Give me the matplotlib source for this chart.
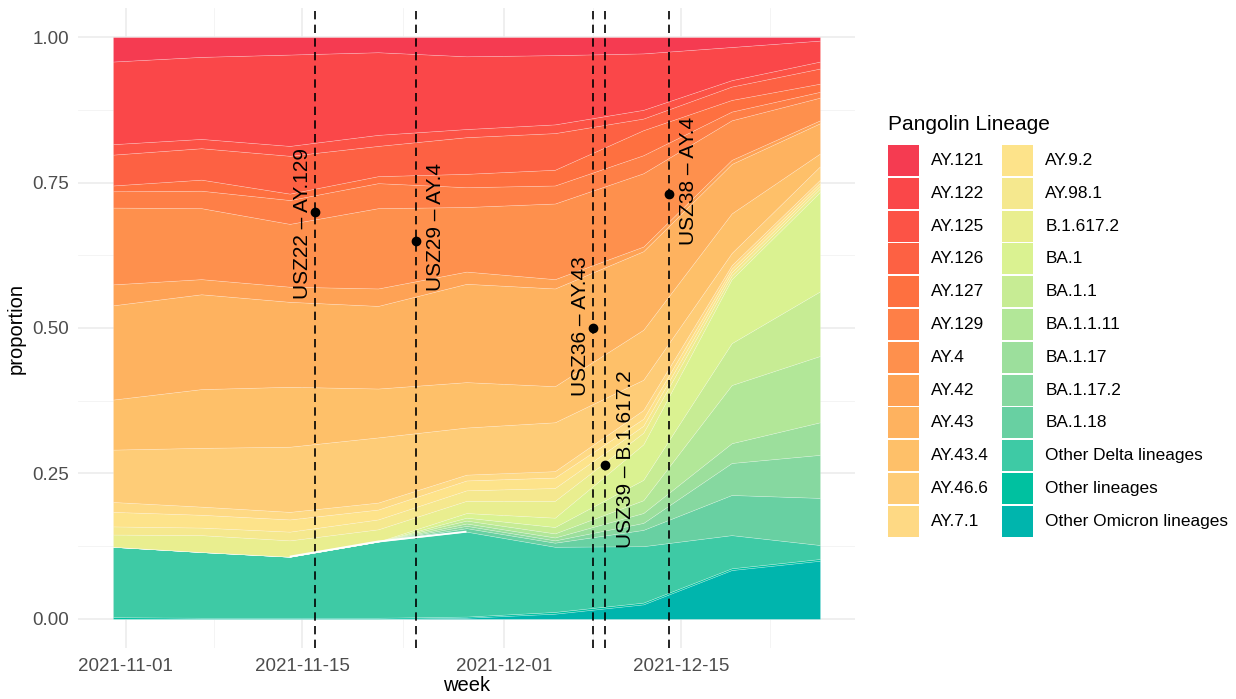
import numpy as np
import matplotlib
matplotlib.use("Agg")
import matplotlib.pyplot as plt
import matplotlib.dates as mdates
import matplotlib.ticker as mticker
from matplotlib.patches import Rectangle
import datetime as dt

# ---------------- data ----------------
weeks = ["2021-10-31", "2021-11-07", "2021-11-14", "2021-11-21", "2021-11-28",
         "2021-12-05", "2021-12-12", "2021-12-19", "2021-12-26"]

lineages = ["AY.121", "AY.122", "AY.125", "AY.126", "AY.127", "AY.129", "AY.4",
            "AY.42", "AY.43", "AY.43.4", "AY.46.6", "AY.7.1", "AY.9.2", "AY.98.1",
            "B.1.617.2", "BA.1", "BA.1.1", "BA.1.1.11", "BA.1.17", "BA.1.17.2",
            "BA.1.18", "Other Delta lineages", "Other lineages", "Other Omicron lineages"]

colors = ["#F53B51", "#FA4749", "#FC5346", "#FD6143", "#FE7040", "#FE7F47", "#FE904D",
          "#FEA255", "#FEB25F", "#FEC069", "#FECC77", "#FED984", "#FDE38A", "#F5E88E",
          "#E9EE8F", "#DAF291", "#C7EC94", "#B2E798", "#9CDF9C", "#86D8A0",
          "#68D0A2", "#3ECAA5", "#00C1A0", "#00B5AD"]

# weekly proportions per lineage
AY_121 = [0.042, 0.034, 0.030, 0.026, 0.033, 0.031, 0.028, 0.017, 0.006]
AY_122 = [0.142, 0.141, 0.157, 0.142, 0.125, 0.119, 0.097, 0.057, 0.036]
AY_125 = [0.018, 0.016, 0.017, 0.019, 0.014, 0.015, 0.015, 0.011, 0.012]
AY_126 = [0.053, 0.054, 0.065, 0.052, 0.063, 0.063, 0.020, 0.023, 0.026]
AY_127 = [0.010, 0.019, 0.011, 0.012, 0.023, 0.027, 0.043, 0.020, 0.014]
AY_129 = [0.028, 0.030, 0.041, 0.043, 0.034, 0.031, 0.031, 0.015, 0.010]
AY_4 = [0.132, 0.122, 0.108, 0.138, 0.111, 0.130, 0.126, 0.068, 0.039]
AY_42 = [0.036, 0.026, 0.026, 0.030, 0.021, 0.016, 0.008, 0.007, 0.005]
AY_43 = [0.162, 0.163, 0.146, 0.142, 0.169, 0.168, 0.135, 0.085, 0.052]
AY_43_4 = [0.086, 0.101, 0.103, 0.084, 0.078, 0.062, 0.086, 0.068, 0.022]
AY_46_6 = [0.090, 0.101, 0.112, 0.112, 0.081, 0.084, 0.052, 0.021, 0.023]
AY_7_1 = [0.017, 0.014, 0.013, 0.012, 0.010, 0.011, 0.015, 0.006, 0.005]
AY_9_2 = [0.025, 0.022, 0.021, 0.017, 0.017, 0.018, 0.012, 0.006, 0.005]
AY_98_1 = [0.014, 0.013, 0.015, 0.017, 0.018, 0.022, 0.012, 0.006, 0.005]
B_1_617_2 = [0.021, 0.029, 0.028, 0.021, 0.021, 0.029, 0.020, 0.006, 0.006]
BA_1 = [0.0, 0.0, 0.0, 0.0, 0.008, 0.016, 0.061, 0.110, 0.171]
BA_1_1 = [0.0, 0.0, 0.0, 0.0, 0.005, 0.011, 0.035, 0.072, 0.111]
BA_1_1_11 = [0.0, 0.0, 0.0, 0.0, 0.005, 0.007, 0.022, 0.100, 0.114]
BA_1_17 = [0.0, 0.0, 0.0, 0.0, 0.004, 0.005, 0.017, 0.034, 0.056]
BA_1_17_2 = [0.0, 0.0, 0.0, 0.0, 0.004, 0.004, 0.012, 0.055, 0.074]
BA_1_18 = [0.0, 0.0, 0.0, 0.0, 0.006, 0.007, 0.028, 0.069, 0.081]
OTHER_DELTA = [0.121, 0.113, 0.105, 0.131, 0.146, 0.112, 0.097, 0.057, 0.024]
OTHER = [0.003, 0.002, 0.002, 0.002, 0.002, 0.003, 0.003, 0.003, 0.003]
OTHER_OMICRON = [0.0, 0.0, 0.0, 0.0, 0.002, 0.009, 0.025, 0.084, 0.100]

series = [AY_121, AY_122, AY_125, AY_126, AY_127, AY_129, AY_4, AY_42, AY_43,
          AY_43_4, AY_46_6, AY_7_1, AY_9_2, AY_98_1, B_1_617_2, BA_1, BA_1_1,
          BA_1_1_11, BA_1_17, BA_1_17_2, BA_1_18, OTHER_DELTA, OTHER, OTHER_OMICRON]

# weeks where the stacking leaves a thin white gap above "Other Delta lineages"
gap_weeks = ["2021-11-14", "2021-11-21", "2021-11-28"]

# sample annotations
sample_labels = ["USZ22 \u2013 AY.129", "USZ29 \u2013 AY.4", "USZ36 \u2013 AY.43",
                 "USZ39 \u2013 B.1.617.2", "USZ38 \u2013 AY.4"]
sample_dates = ["2021-11-16", "2021-11-24", "2021-12-08", "2021-12-09", "2021-12-14"]
sample_y = [0.70, 0.65, 0.50, 0.265, 0.73]
label_y = [0.679, 0.674, 0.503, 0.275, 0.753]
label_side = [-1, 1, -1, 1, 1]

major_dates = ["2021-11-01", "2021-11-15", "2021-12-01", "2021-12-15"]
minor_dates = ["2021-11-08", "2021-11-23", "2021-12-08", "2021-12-22"]


def dnum(s):
    return mdates.date2num(dt.date.fromisoformat(s))


# ---------------- figure ----------------
W, H = 1236, 699
plt.rcParams['font.family'] = ['Liberation Sans', 'DejaVu Sans']
fig = plt.figure(figsize=(W / 100, H / 100), dpi=100)

px_l, px_r, px_t, px_b = 77.6, 855.4, 8, 648
ax = fig.add_axes([px_l / W, 1 - px_b / H, (px_r - px_l) / W, (px_b - px_t) / H])

x = np.array([dnum(d) for d in weeks])
vals = [np.array(s) for s in series]

ax.stackplot(x, *vals[::-1], colors=colors[::-1],
             edgecolor=(1, 1, 1, 0.35), linewidth=0.4)

# white gap line on top of "Other Delta lineages"
od_top = np.array(OTHER_DELTA) + np.array(OTHER) + np.array(OTHER_OMICRON)
gi = [weeks.index(g) for g in gap_weeks]
ax.plot(x[gi], od_top[gi], color="white", linewidth=1.4, zorder=3,
        solid_capstyle="butt")

x0 = x[0] - 0.05 * (x[-1] - x[0])
x1 = x[-1] + 0.05 * (x[-1] - x[0])
ax.set_xlim(x0, x1)
ax.set_ylim(-0.05, 1.05)

ax.xaxis.set_major_locator(mticker.FixedLocator([dnum(d) for d in major_dates]))
ax.xaxis.set_minor_locator(mticker.FixedLocator([dnum(d) for d in minor_dates]))
ax.xaxis.set_major_formatter(mdates.DateFormatter("%Y-%m-%d"))
ax.set_yticks([0, 0.25, 0.5, 0.75, 1.0])
ax.set_yticklabels(["0.00", "0.25", "0.50", "0.75", "1.00"])
ax.set_yticks([0.125, 0.375, 0.625, 0.875], minor=True)

ax.grid(which="major", color="#EBEBEB", linewidth=1.1)
ax.grid(which="minor", color="#F3F3F3", linewidth=0.6)
ax.set_axisbelow(True)
for s in ax.spines.values():
    s.set_visible(False)
ax.tick_params(which="both", length=0)
ax.tick_params(axis="both", labelsize=13.5, labelcolor="#4D4D4D")
ax.tick_params(axis="x", pad=7)
ax.tick_params(axis="y", pad=6)
ax.set_xlabel("week", fontsize=14.5, labelpad=1)
ax.set_ylabel("proportion", fontsize=14.5, labelpad=5)

for lab, d, yy, ly, side in zip(sample_labels, sample_dates, sample_y, label_y, label_side):
    xd = dnum(d)
    ax.axvline(xd, color="black", linestyle=(0, (5, 3.2)), linewidth=1.2)
    ax.plot([xd], [yy], "o", color="black", markersize=6, zorder=5)
    ax.annotate(lab, xy=(xd, ly), xytext=(side * 11.65 + 2.55, 0),
                textcoords="offset points", rotation=90, ha="center",
                va="center", fontsize=15, color="black")

# ---------------- legend ----------------
fig.text(888 / W, 1 - 125 / H, "Pangolin Lineage", fontsize=15, ha="left", va="center")
key = 31
pitch = 32.8
for i, (name, col) in enumerate(zip(lineages, colors)):
    c, r = divmod(i, 12)
    kx = 888 if c == 0 else 1002.3
    ky = 145 + r * pitch
    fig.patches.append(Rectangle((kx / W, 1 - (ky + key) / H), key / W, key / H,
                                 transform=fig.transFigure, facecolor=col,
                                 edgecolor="none", figure=fig))
    fig.text((kx + 43) / W, 1 - (ky + key / 2) / H, name, fontsize=12.4,
             ha="left", va="center")

fig.savefig("out.png", dpi=100)
